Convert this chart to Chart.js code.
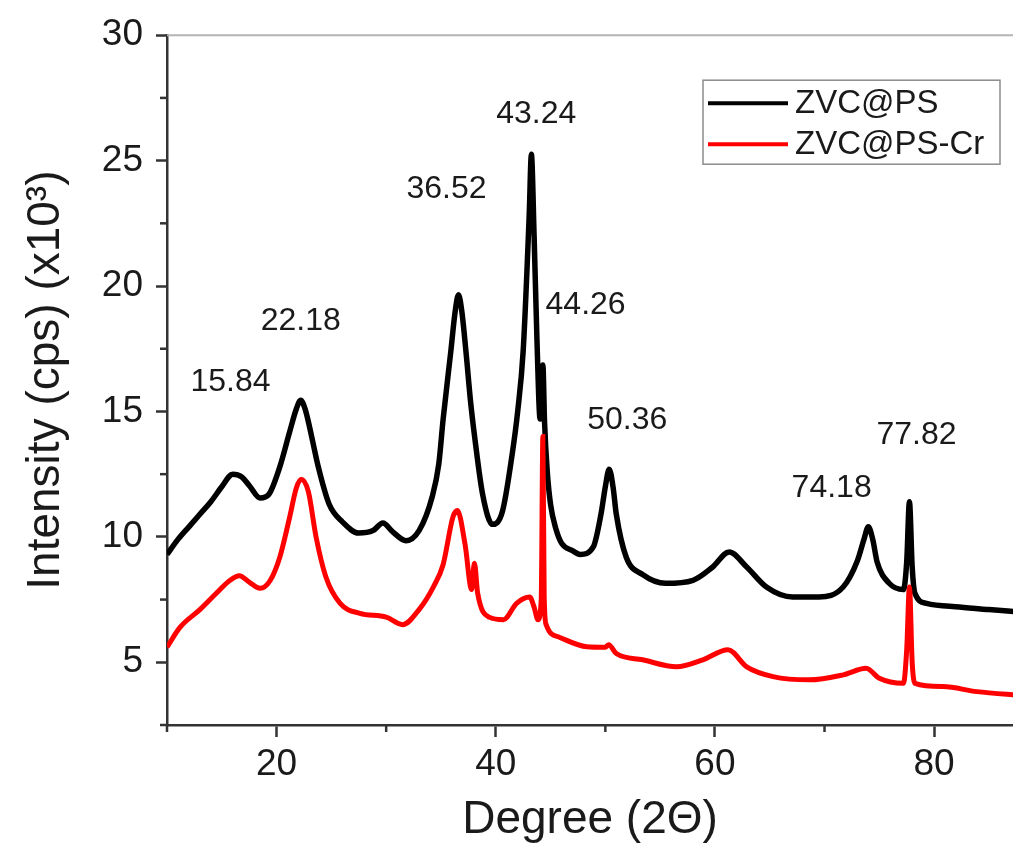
<!DOCTYPE html>
<html>
<head>
<meta charset="utf-8">
<script src="https://cdn.jsdelivr.net/npm/chart.js@4.4.0/dist/chart.umd.min.js"></script>
<style>
  html, body { margin: 0; padding: 0; background: #fff; }
  canvas { display: block; }
</style>
</head>
<body>
<canvas id="xrdChart" width="1013" height="848"></canvas>
<script>
// XRD patterns: 2-theta (deg) vs intensity (x10^3 cps)
const psAngle = [10, 11, 12, 13, 14, 15, 16, 16.8, 17.5, 18.5,
  19.3, 20.3, 21.2, 21.8, 22.2, 22.6, 23.0, 23.8, 24.8, 26.0,
  27.5, 28.8, 29.7, 30.6, 31.8, 33.0, 34.2, 34.8, 35.2, 35.9,
  36.3, 36.6, 36.9, 37.3, 37.7, 38.1, 38.8, 39.7, 40.6, 41.5,
  42.0, 42.5, 43.05, 43.25, 43.5, 43.75, 44.05, 44.2, 44.3, 44.45,
  44.7, 45.0, 45.5, 46.0, 47.0, 47.7, 48.9, 49.6, 50.0, 50.35,
  50.7, 51.0, 51.9, 53.4, 55.5, 58.0, 59.8, 61.3, 62.9, 64.7,
  67.1, 69.5, 71.7, 73.0, 73.6, 74.0, 74.4, 74.8, 75.9, 77.2,
  77.5, 77.75, 78.0, 78.25, 79.3, 82.3, 85.0, 88.0];
const psIntensity = [9.3, 9.9, 10.4, 10.9, 11.4, 12.0, 12.5, 12.4, 12.05, 11.55,
  11.7, 12.8, 14.2, 15.1, 15.45, 15.1, 14.4, 12.8, 11.3, 10.6,
  10.15, 10.25, 10.55, 10.2, 9.85, 10.25, 11.6, 12.9, 14.7, 17.4,
  19.0, 19.65, 19.0, 17.3, 15.4, 13.9, 11.7, 10.5, 11.0, 13.3,
  15.0, 17.4, 22.8, 25.25, 22.0, 18.0, 14.7, 15.5, 16.85, 14.6,
  12.6, 11.3, 10.3, 9.75, 9.45, 9.3, 9.6, 10.9, 12.0, 12.7,
  12.0, 10.9, 9.2, 8.5, 8.15, 8.27, 8.8, 9.4, 8.8, 8.0,
  7.6, 7.6, 8.0, 9.05, 9.9, 10.4, 9.9, 9.0, 8.15, 7.9,
  9.0, 11.4, 8.8, 7.75, 7.35, 7.2, 7.1, 7.0];

const crAngle = [10, 11.2, 13.0, 14.5, 15.7, 16.6, 17.5, 18.5, 19.4, 20.3,
  21.2, 21.8, 22.25, 22.9, 23.6, 24.5, 25.8, 27.6, 30.0, 31.5,
  33.0, 34.3, 35.2, 36.1, 36.5, 37.2, 37.8, 38.05, 38.35, 39.4,
  40.7, 41.9, 43.1, 43.5, 43.85, 44.15, 44.3, 44.42, 44.6, 45.8,
  48.3, 50.0, 50.3, 51.0, 53.4, 56.5, 58.9, 61.2, 62.9, 65.3,
  68.6, 71.7, 73.8, 75.0, 77.2, 77.5, 77.75, 78.0, 78.25, 80.8,
  83.9, 88.0];
const crIntensity = [5.6, 6.4, 7.1, 7.75, 8.25, 8.45, 8.2, 7.95, 8.25, 9.2,
  10.8, 11.95, 12.3, 11.8, 10.0, 8.4, 7.35, 6.95, 6.8, 6.5,
  7.1, 8.0, 8.9, 10.8, 11.05, 9.7, 7.9, 8.95, 7.75, 6.8,
  6.7, 7.35, 7.6, 7.2, 6.7, 7.5, 14.0, 7.6, 6.5, 6.0,
  5.62, 5.6, 5.7, 5.35, 5.1, 4.82, 5.1, 5.5, 4.82, 4.43,
  4.3, 4.5, 4.76, 4.36, 4.16, 5.5, 8.0, 5.0, 4.16, 4.03,
  3.83, 3.68];

const seriesNames = ['ZVC@PS', 'ZVC@PS-Cr'];
const seriesColors = ['#000000', '#ff0000'];

// peak labels, with the spot their text is centred on (data units)
const peakLabels = ['15.84', '22.18', '36.52', '43.24', '44.26', '50.36', '74.18', '77.82'];
const peakLabelX = [15.8, 22.2, 35.5, 43.7, 48.2, 52.0, 70.65, 78.4];
const peakLabelY = [16.15, 18.6, 23.85, 26.85, 19.25, 14.65, 11.95, 14.05];

const xMinorTicks = [10, 30, 50, 70];
const yMinorTicks = [2.5, 7.5, 12.5, 17.5, 22.5, 27.5];

const FONT = '"Liberation Sans", Arial, sans-serif';
const INK = '#1a1a1a';
const AXIS = '#333333';

Chart.defaults.font.family = FONT;
Chart.defaults.color = INK;

function toPoints(xs, ys) {
    return xs.map((x, i) => ({ x: x, y: ys[i] }));
}

// minor ticks, frame top, peak labels and the boxed legend
const decorPlugin = {
    id: 'decor',
    afterDraw(chart) {
        const { ctx, chartArea, scales } = chart;
        const xs = scales.x;
        const ys = scales.y;
        ctx.save();

        ctx.strokeStyle = '#b4b4b4';
        ctx.lineWidth = 2;
        ctx.beginPath();
        ctx.moveTo(chartArea.left, chartArea.top);
        ctx.lineTo(chartArea.right, chartArea.top);
        ctx.stroke();

        ctx.strokeStyle = AXIS;
        ctx.lineWidth = 2.5;
        xMinorTicks.forEach(v => {
            const px = xs.getPixelForValue(v);
            ctx.beginPath();
            ctx.moveTo(px, chartArea.bottom);
            ctx.lineTo(px, chartArea.bottom + 7);
            ctx.stroke();
        });
        yMinorTicks.forEach(v => {
            const py = ys.getPixelForValue(v);
            ctx.beginPath();
            ctx.moveTo(chartArea.left, py);
            ctx.lineTo(chartArea.left - 7, py);
            ctx.stroke();
        });

        ctx.fillStyle = INK;
        ctx.font = '32px ' + FONT;
        ctx.textAlign = 'center';
        ctx.textBaseline = 'middle';
        peakLabels.forEach((t, i) => {
            ctx.fillText(t, xs.getPixelForValue(peakLabelX[i]), ys.getPixelForValue(peakLabelY[i]));
        });

        // legend
        const boxW = 297, boxH = 84;
        const bx = chartArea.right - 310;
        const by = chartArea.top + 45;
        ctx.fillStyle = '#ffffff';
        ctx.fillRect(bx, by, boxW, boxH);
        ctx.strokeStyle = '#8c8c8c';
        ctx.lineWidth = 1.5;
        ctx.strokeRect(bx, by, boxW, boxH);
        ctx.font = '33px ' + FONT;
        ctx.textAlign = 'left';
        chart.data.datasets.forEach((ds, i) => {
            const ly = by + 23 + i * 41;
            ctx.strokeStyle = ds.borderColor;
            ctx.lineWidth = 4;
            ctx.beginPath();
            ctx.moveTo(bx + 5, ly);
            ctx.lineTo(bx + 85, ly);
            ctx.stroke();
            ctx.fillStyle = INK;
            ctx.fillText(ds.label, bx + 92, ly + 1);
        });

        ctx.restore();
    }
};

new Chart(document.getElementById('xrdChart'), {
    type: 'line',
    data: {
        datasets: [
            {
                label: seriesNames[0],
                data: toPoints(psAngle, psIntensity),
                borderColor: seriesColors[0],
                borderWidth: 5.5,
                pointRadius: 0,
                cubicInterpolationMode: 'monotone',
                order: 1
            },
            {
                label: seriesNames[1],
                data: toPoints(crAngle, crIntensity),
                borderColor: seriesColors[1],
                borderWidth: 5,
                pointRadius: 0,
                cubicInterpolationMode: 'monotone',
                order: 0
            }
        ]
    },
    options: {
        responsive: false,
        animation: false,
        layout: { padding: { top: 33, right: 0, bottom: 0, left: 0 } },
        plugins: {
            legend: { display: false },
            tooltip: { enabled: false }
        },
        scales: {
            x: {
                type: 'linear',
                min: 10,
                max: 87.2,
                border: { color: AXIS, width: 2.5 },
                grid: { drawOnChartArea: false, tickLength: 12, tickWidth: 2.5, tickColor: AXIS },
                ticks: { stepSize: 20, includeBounds: false, padding: 6, font: { size: 37 }, color: INK },
                title: { display: true, text: 'Degree (2Θ)', font: { size: 46 }, color: INK, padding: { top: 0, bottom: 0 } },
                afterFit: s => { s.height = 123; }
            },
            y: {
                type: 'linear',
                min: 2.5,
                max: 30,
                border: { color: AXIS, width: 2.5 },
                grid: { drawOnChartArea: false, tickLength: 11, tickWidth: 2.5, tickColor: AXIS },
                ticks: { stepSize: 5, includeBounds: false, padding: 13, font: { size: 37 }, color: INK },
                title: { display: true, text: 'Intensity (cps) (x10³)', font: { size: 46 }, color: INK, padding: { top: 19, bottom: 0 } },
                afterFit: s => { s.width = 167; }
            }
        }
    },
    plugins: [decorPlugin]
});
</script>
</body>
</html>
